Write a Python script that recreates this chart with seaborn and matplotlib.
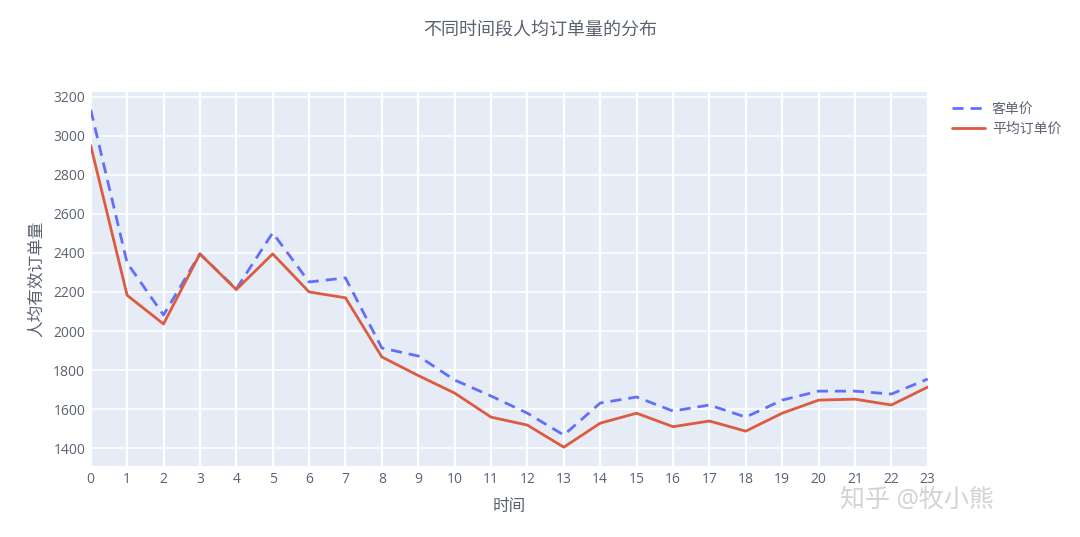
import numpy as np
import pandas as pd
import matplotlib
matplotlib.use("Agg")
import matplotlib.pyplot as plt
import seaborn as sns
from matplotlib.lines import Line2D

hours = list(range(24))
customer_price = [3133, 2349, 2082, 2395, 2215, 2503, 2251, 2272, 1913, 1872, 1749, 1667,
                  1579, 1467, 1631, 1662, 1590, 1621, 1559, 1646, 1692, 1692, 1677, 1754]
avg_order_price = [2950, 2183, 2036, 2395, 2212, 2395, 2200, 2170, 1867, 1772, 1682, 1559,
                   1518, 1405, 1528, 1579, 1510, 1539, 1487, 1579, 1646, 1651, 1621, 1713]
series_names = ["客单价", "平均订单价"]
title = "不同时间段人均订单量的分布"
xlabel = "时间"
ylabel = "人均有效订单量"
yticks = [1400, 1600, 1800, 2000, 2200, 2400, 2600, 2800, 3000, 3200]
watermark = "知乎 @牧小熊"

df = pd.DataFrame({
    "hour": hours * 2,
    "value": customer_price + avg_order_price,
    "series": [series_names[0]] * 24 + [series_names[1]] * 24,
})

sns.set_theme(style="darkgrid")
plt.rcParams["font.family"] = ["Open Sans", "Noto Sans CJK SC", "DejaVu Sans"]
text_color = "#5a6270"

fig = plt.figure(figsize=(10.8, 5.37), dpi=100)
ax = fig.add_axes([0.084, 0.132, 0.775, 0.697])
ax.set_facecolor("#E5ECF6")

palette = {series_names[0]: "#636EFA", series_names[1]: "#DC5B41"}
sns.lineplot(data=df, x="hour", y="value", hue="series", style="series",
             palette=palette, dashes={series_names[0]: (4, 2.5), series_names[1]: ""},
             linewidth=2, ax=ax, legend=False)

ax.set_xlim(0, 23)
ax.set_ylim(1308, 3225)
ax.set_xticks(hours)
ax.set_yticks(yticks)
ax.grid(True, color="white", linewidth=1.2)
ax.grid(True, axis="x", color="white", linewidth=1.6)
for s in ax.spines.values():
    s.set_visible(False)
ax.tick_params(axis="both", colors=text_color, labelsize=10, length=0, pad=4)
ax.set_xlabel(xlabel, color=text_color, fontsize=12, labelpad=9)
ax.set_ylabel(ylabel, color=text_color, fontsize=12, labelpad=6)
fig.text(0.5, 0.944, title, ha="center", va="center", color=text_color, fontsize=13)

handles = [Line2D([], [], color="#636EFA", lw=2, dashes=(4, 2.5)),
           Line2D([], [], color="#DC5B41", lw=2)]
leg = fig.legend(handles, series_names, loc="upper left", bbox_to_anchor=(0.876, 0.82),
                 frameon=False, fontsize=10, handlelength=2.4, labelspacing=0.35,
                 borderaxespad=0, handletextpad=0.5)
for t in leg.get_texts():
    t.set_color(text_color)

fig.text(0.778, 0.068, watermark, ha="left", va="center", fontsize=18,
         color="#c8c8c8", alpha=0.8)

fig.savefig("out.png", dpi=100, facecolor="white")
